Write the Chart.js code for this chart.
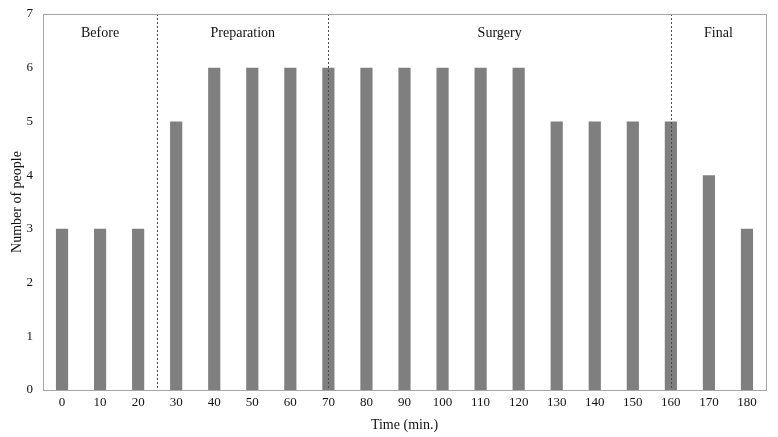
<!DOCTYPE html>
<html>
<head>
<meta charset="utf-8">
<script src="https://cdn.jsdelivr.net/npm/chart.js@4/dist/chart.umd.min.js"></script>
<style>
  html, body { margin: 0; padding: 0; background: #fff; }
  #wrap { width: 778px; height: 437px; }
</style>
</head>
<body>
<div id="wrap"><canvas id="chart" width="778" height="437"></canvas></div>
<script>
// data
const minutes = ['0', '10', '20', '30', '40', '50', '60', '70', '80', '90',
                 '100', '110', '120', '130', '140', '150', '160', '170', '180'];
const people = [3, 3, 3, 5, 6, 6, 6, 6, 6, 6, 6, 6, 6, 5, 5, 5, 5, 4, 3];
const yTicks = [0, 1, 2, 3, 4, 5, 6, 7];

// phases: names and the minute where each one ends
const phaseNames = ['Before', 'Preparation', 'Surgery', 'Final'];
const phaseBreaks = [25, 70, 160];

const serif = "'Liberation Serif', 'Times New Roman', serif";

// dashed phase lines, phase names and the box round the plot
const phasePlugin = {
    id: 'phases',
    afterDatasetsDraw(chart) {
        const { ctx, chartArea: a, scales } = chart;
        const x = scales.x;
        const toPx = m => x.getPixelForValue(m / 10);

        ctx.save();
        ctx.strokeStyle = '#4a4a4a';
        ctx.lineWidth = 1;
        ctx.setLineDash([2, 2]);
        phaseBreaks.forEach(m => {
            const px = Math.round(toPx(m)) + 0.5;
            ctx.beginPath();
            ctx.moveTo(px, a.top);
            ctx.lineTo(px, a.bottom);
            ctx.stroke();
        });
        ctx.setLineDash([]);

        // box
        ctx.strokeStyle = '#a6a6a6';
        ctx.strokeRect(Math.round(a.left) + 0.5, Math.round(a.top) + 0.5,
            Math.round(a.right - a.left), Math.round(a.bottom - a.top));

        // names centred between the lines
        const edges = [a.left, ...phaseBreaks.map(toPx), a.right];
        ctx.fillStyle = '#111';
        ctx.font = '14px ' + serif;
        ctx.textAlign = 'center';
        ctx.textBaseline = 'middle';
        phaseNames.forEach((name, i) => {
            ctx.fillText(name, (edges[i] + edges[i + 1]) / 2, a.top + 19);
        });
        ctx.restore();
    }
};

new Chart(document.getElementById('chart'), {
    type: 'bar',
    data: {
        labels: minutes,
        datasets: [{
            data: people,
            backgroundColor: '#7f7f7f',
            barPercentage: 0.32,
            categoryPercentage: 1
        }]
    },
    options: {
        responsive: false,
        animation: false,
        layout: { padding: { left: 7, right: 12, top: 14, bottom: 3 } },
        plugins: {
            legend: { display: false },
            tooltip: { enabled: false }
        },
        scales: {
            x: {
                afterFit(scale) { scale.height = 44; },
                grid: { display: false, drawTicks: false },
                border: { display: false },
                ticks: { color: '#111', font: { family: serif, size: 13 }, padding: 5, maxRotation: 0 },
                title: { display: true, text: 'Time (min.)', color: '#111',
                         font: { family: serif, size: 14 }, padding: { top: 4, bottom: 0 } }
            },
            y: {
                min: 0,
                max: 7,
                afterFit(scale) {
                    scale.width = 36;
                    scale.paddingTop = 0;
                    scale.paddingBottom = 0;
                },
                afterBuildTicks(scale) { scale.ticks = yTicks.map(v => ({ value: v })); },
                grid: { display: false, drawTicks: false },
                border: { display: false },
                ticks: { color: '#111', font: { family: serif, size: 13 }, padding: 10 },
                title: { display: true, text: 'Number of people', color: '#111',
                         font: { family: serif, size: 14 }, padding: { top: 2, bottom: 0 } }
            }
        }
    },
    plugins: [phasePlugin]
});
</script>
</body>
</html>
